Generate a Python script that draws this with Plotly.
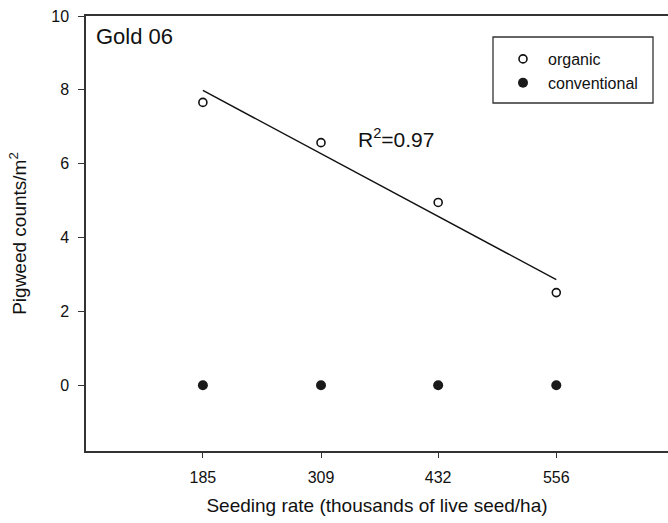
import numpy as np
import plotly.graph_objects as go

# Data
seeding_rate = [185, 309, 432, 556]
organic = [7.66, 6.57, 4.95, 2.51]
conventional = [0, 0, 0, 0]
x_ticks = [185, 309, 432, 556]
y_ticks = [0, 2, 4, 6, 8, 10]
r2_label = "R<sup>2</sup>=0.97"
panel_label = "Gold 06"

# regression line through organic points
slope, intercept = np.polyfit(seeding_rate, organic, 1)
fit_x = [seeding_rate[0], seeding_rate[-1]]
fit_y = [slope * v + intercept for v in fit_x]

FONT = "Liberation Sans, Arial, Helvetica, sans-serif"

fig = go.Figure()
fig.add_trace(go.Scatter(x=fit_x, y=fit_y, mode="lines",
                         line=dict(color="#111", width=1.4), showlegend=False,
                         hoverinfo="skip"))
fig.add_trace(go.Scatter(x=seeding_rate, y=organic, mode="markers", name="organic",
                         marker=dict(symbol="circle-open", size=8, color="#111",
                                     line=dict(width=1.6, color="#111"))))
fig.add_trace(go.Scatter(x=seeding_rate, y=conventional, mode="markers", name="conventional",
                         marker=dict(symbol="circle", size=10, color="#1a1a1a")))

L, T, R, B = 86, 16, 0, 72
W, H = 668, 523
pw, ph = W - L - R, H - T - B

def px2paper_x(px):
    return (px - L) / pw

def px2paper_y(py):
    return (H - B - py) / ph

# legend box
fig.add_shape(type="rect", xref="paper", yref="paper",
              x0=px2paper_x(493), x1=px2paper_x(653),
              y0=px2paper_y(103), y1=px2paper_y(37),
              line=dict(color="#333", width=1.3), fillcolor="white", layer="below")

fig.add_annotation(x=px2paper_x(94), y=px2paper_y(36), xref="paper", yref="paper",
                   text=panel_label, showarrow=False, xanchor="left", yanchor="middle",
                   font=dict(size=22, color="#111", family=FONT))
fig.add_annotation(x=px2paper_x(356), y=px2paper_y(138), xref="paper", yref="paper",
                   text=r2_label, showarrow=False, xanchor="left", yanchor="middle",
                   font=dict(size=21, color="#111", family=FONT))

fig.update_layout(
    width=W, height=H,
    margin=dict(l=L, r=R, t=T, b=B),
    paper_bgcolor="white", plot_bgcolor="white",
    font=dict(family=FONT, color="#111"),
    legend=dict(x=px2paper_x(498), y=px2paper_y(42), xanchor="left", yanchor="top",
                bgcolor="rgba(0,0,0,0)", borderwidth=0,
                font=dict(size=16, family=FONT, color="#111"),
                tracegroupgap=0, itemwidth=40),
    showlegend=True,
)
fig.update_xaxes(range=[62.3, 309 + (668 - 321) / 0.9526],
                 tickvals=x_ticks, ticktext=[str(v) for v in x_ticks],
                 showgrid=False, zeroline=False,
                 showline=True, linecolor="#333", linewidth=1.5, mirror=True,
                 ticks="outside", ticklen=5, tickcolor="#333", tickwidth=1.2,
                 tickfont=dict(size=16, family=FONT, color="#111"),
                 ticklabelstandoff=6,
                 title=dict(text="Seeding rate (thousands of live seed/ha)",
                            font=dict(size=19, family=FONT, color="#111"), standoff=14))
fig.update_yaxes(range=[-1.78, 10], tickvals=y_ticks,
                 showgrid=False, zeroline=False,
                 showline=True, linecolor="#333", linewidth=1.5, mirror=False,
                 ticks="outside", ticklen=6, tickcolor="#333", tickwidth=1.2,
                 tickfont=dict(size=16, family=FONT, color="#111"),
                 ticklabelstandoff=6,
                 title=dict(text="Pigweed counts/m<sup>2</sup>",
                            font=dict(size=19, family=FONT, color="#111"), standoff=20))

fig.write_html("out.html")
